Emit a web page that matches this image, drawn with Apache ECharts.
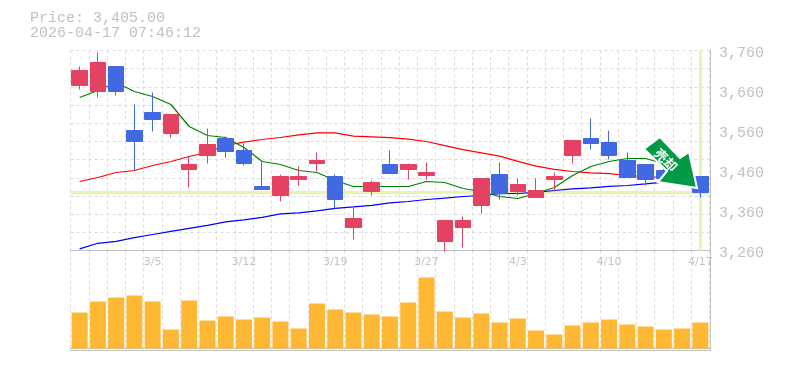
<!DOCTYPE html>
<html><head><meta charset="utf-8">
<style>html,body{margin:0;padding:0;background:#fff}#c{width:785px;height:370px}</style>
<script src="https://cdn.jsdelivr.net/npm/echarts@6/dist/echarts.min.js"></script>
</head><body><div id="c"></div>
<script>
const categories=['2/27','3/2','3/3','3/4','3/5','3/6','3/9','3/10','3/11','3/12','3/13','3/16','3/17','3/18','3/19','3/23','3/24','3/25','3/26','3/27','3/30','3/31','4/1','4/2','4/3','4/6','4/7','4/8','4/9','4/10','4/13','4/14','4/15','4/16','4/17'];
// candles: open, close, low, high
const opens=[3672.5,3657.5,3720,3560,3605,3552.5,3462.5,3497.5,3540,3510,3420,3397.5,3437.5,3477.5,3445,3317.5,3407.5,3475,3462.5,3447.5,3282.5,3317.5,3372.5,3450,3407.5,3392.5,3437.5,3497.5,3540,3530,3485,3475,3460,3455,3445];
const closes=[3710,3730,3657.5,3532.5,3587.5,3600,3475,3525,3507.5,3477.5,3412.5,3445,3445,3485,3387.5,3340,3430,3452.5,3475,3455,3335,3335,3440,3402.5,3425,3410,3445,3535,3527.5,3497.5,3442.5,3437.5,3440,3435,3405];
const lows=[3662.5,3642.5,3647.5,3460,3557.5,3542.5,3417.5,3477.5,3492.5,3472.5,3412.5,3382.5,3422.5,3457.5,3362.5,3287.5,3397.5,3452.5,3437.5,3437.5,3257.5,3267.5,3352.5,3387.5,3397.5,3392.5,3407.5,3477.5,3512.5,3487.5,3442.5,3422.5,3430,3425,3392.5];
const highs=[3720,3755,3720,3625,3655,3600,3495,3565,3545,3527.5,3482.5,3450,3470,3505,3450,3370,3435,3510,3477.5,3480,3335,3345,3440,3480,3440,3440,3455,3535,3590,3560,3505,3475,3470,3465,3445];
const ma5=[3642.5,3660,3680,3657.5,3645,3625,3570,3547.5,3542.5,3517.5,3482.5,3475,3460,3455,3435,3420,3420,3420,3420,3432.5,3430,3415,3407.5,3395,3390,3402.5,3417.5,3447.5,3470,3482.5,3490,3490,3477.5,3460,3440];
const ma25=[3432.5,3442.5,3455,3460,3472.5,3482.5,3495,3505,3522.5,3531,3537.5,3542.5,3549,3554,3554,3546,3544,3542,3538.5,3532.5,3522,3512,3504,3496,3483,3471,3463,3457.5,3454,3452,3447.5,3445,3442.5,3440,3437.5];
const ma75=[3264,3278,3283,3292,3300,3308,3315.5,3323,3331.5,3336.5,3343,3351.5,3354,3359,3365.5,3369,3373,3379,3382.5,3387.5,3391,3395,3397.5,3402,3402.5,3405.5,3410,3414,3416.5,3420.5,3422.5,3426.5,3431,3435,3437.5];
const volumes=[36,47,51,53,47,19,48,28,32,29,31,27,20,45,39,36,34,32,46,71,37,31,35,26,30,18,14,23,26,29,24,22,19,20,26];
const priceTicks=['3,260','3,360','3,460','3,560','3,660','3,760'];
const lastPrice=3405;
const titleLines=['Price: 3,405.00','2026-04-17 07:46:12'];
const arrowLabel='売却';

const GRID='#dcdcdc',FRAME='#c0c0c0',TXT='#c0c0c0',XTXT='#c4c4c4',MONO='"Liberation Mono",monospace';
const RED='#e44262',BLUE='#4169e1';
const candleData=opens.map((o,i)=>[o,closes[i],lows[i],highs[i]]);
const dash={type:[3,3],color:GRID,width:1};
const chart=echarts.init(document.getElementById('c'),null,{renderer:'canvas'});
chart.setOption({
 animation:false,
 backgroundColor:'#fff',
 title:{text:titleLines.join('\n'),left:30,top:11,padding:0,textStyle:{color:TXT,fontFamily:MONO,fontSize:15,fontWeight:'normal',lineHeight:15}},
 grid:[{left:70.5,top:50.5,width:639,height:200,show:false},{left:70.5,top:250.5,width:639,height:100,show:false}],
 xAxis:[
  {type:'category',gridIndex:0,data:categories,boundaryGap:true,
   axisLine:{lineStyle:{color:FRAME,width:1}},axisTick:{show:false},
   splitLine:{show:true,interval:0,lineStyle:dash},
   axisLabel:{interval:(i)=>i%5===4,color:XTXT,fontSize:11,margin:6,fontFamily:'"DejaVu Sans",sans-serif',hideOverlap:false}},
  {type:'category',gridIndex:1,data:categories,boundaryGap:true,
   axisLine:{lineStyle:{color:FRAME,width:1}},axisTick:{show:false},axisLabel:{show:false},
   splitLine:{show:true,interval:0,lineStyle:dash}}
 ],
 yAxis:[
  {type:'value',gridIndex:0,min:3260,max:3760,interval:500/11,position:'left',axisLine:{show:false},axisTick:{show:false},axisLabel:{show:false},splitLine:{lineStyle:dash}},
  {type:'value',gridIndex:0,min:3260,max:3760,interval:100,position:'right',offset:0.5,axisLine:{show:false},axisTick:{show:false},splitLine:{show:false},
   axisLabel:{color:TXT,fontFamily:MONO,fontSize:15,margin:9,verticalAlign:'top',lineHeight:6,formatter:(v)=>priceTicks[Math.round((v-3260)/100)]}},
  {type:'value',gridIndex:1,min:-2,max:98,position:'left',axisLine:{show:false},axisTick:{show:false},axisLabel:{show:false},splitLine:{show:false}}
 ],
 series:[
  {type:'line',name:'ma75',data:ma75,xAxisIndex:0,yAxisIndex:0,symbol:'none',z:2,lineStyle:{color:'#0000ff',width:1.2},
   markLine:{silent:true,symbol:'none',z:1,label:{show:false},animation:false,lineStyle:{color:'#e6f5ac',width:3,type:'solid'},
     data:[{yAxis:lastPrice},{xAxis:categories.length-1}]}},
  {type:'line',name:'ma25',data:ma25,xAxisIndex:0,yAxisIndex:0,symbol:'none',z:2,lineStyle:{color:'#ff0000',width:1.2}},
  {type:'line',name:'ma5',data:ma5,xAxisIndex:0,yAxisIndex:0,symbol:'none',z:2,lineStyle:{color:'#008000',width:1.2}},
  {type:'candlestick',data:candleData,xAxisIndex:0,yAxisIndex:0,barWidth:16,z:3,
   itemStyle:{color:RED,color0:BLUE,borderColor:RED,borderColor0:BLUE,borderWidth:1}},
  {type:'bar',data:volumes,xAxisIndex:1,yAxisIndex:2,barWidth:16,itemStyle:{color:'#ffb833'}}
 ],
 graphic:[
  {type:'line',shape:{x1:710.5,y1:50,x2:710.5,y2:350},style:{stroke:FRAME,lineWidth:1},z:5},
  {type:'line',shape:{x1:70,y1:350.5,x2:711,y2:350.5},style:{stroke:FRAME,lineWidth:1},z:5},
  {type:'polygon',z:20,shape:{points:[[660,137],[680,158],[689,152],[697,188],[658,182],[667,171],[644,149]]},style:{fill:'#009944',stroke:'#fff',lineWidth:2}},
  {type:'text',z:21,x:666,y:160,rotation:-Math.PI/4,style:{text:arrowLabel,fill:'#fff',font:'bold 13px "Noto Sans CJK JP"',align:'center',verticalAlign:'middle'}}
 ]
});
</script></body></html>
